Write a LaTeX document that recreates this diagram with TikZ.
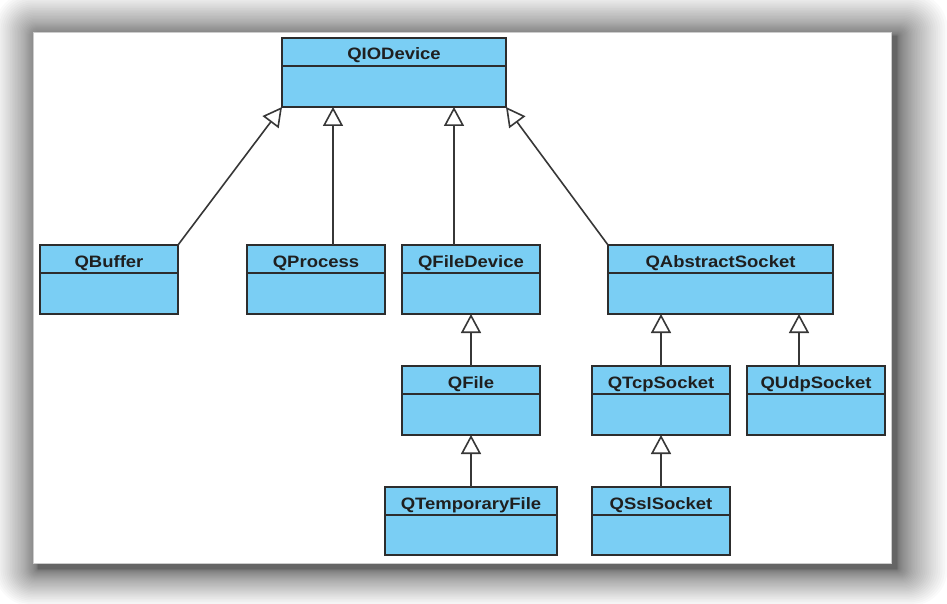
\documentclass[tikz,border=0pt]{standalone}
\usepackage{fontspec}
\newfontfamily\umlfont{Liberation Sans}[FakeStretch=1.12]
\usetikzlibrary{arrows.meta,calc}

\definecolor{classfill}{RGB}{122,206,244}
\definecolor{classline}{RGB}{45,45,45}

\tikzset{
  classbox/.style={draw=classline, fill=classfill, line width=1.6pt, rectangle,
    inner sep=0pt, outer sep=0pt, anchor=north west},
  classtitle/.style={font=\umlfont\bfseries\fontsize{16.5}{18}\selectfont,
    text=black!88, anchor=base, inner sep=0pt},
  divider/.style={draw=classline, line width=1.6pt},
  inherits/.style={draw=classline!95, line width=1.6pt,
    -{Triangle[open,length=19pt,width=20pt,fill=white]}},
  sheet/.style={fill=white, draw=black!20, line width=0.8pt},
  shadowlayer/.style={fill=black, fill opacity=0.02},
}

% class box: name, left, top, right, bottom, title
\newcommand\umlclass[6]{%
  \node[classbox, minimum width={#4-#2}, minimum height={#5-#3}] (#1) at (#2,#3) {};
  \node[classtitle] (#1-title) at ($(#1.north)+(0,22)$) {#6};
  \draw[divider] ($(#1.north west)+(0,28)$) -- ($(#1.north east)+(0,28)$);
}

\begin{document}
\begin{tikzpicture}[x=1pt,y=-1pt]
  \useasboundingbox (0,0) rectangle (947,604);
  \fill[white] (0,0) rectangle (947,604);

  % soft drop shadow under the sheet: stacked translucent layers whose
  % spread grows quadratically, so the shade falls off gently outwards
  \foreach \i in {1,...,40}{
    \pgfmathsetmacro\e{46*(\i/40)^2}
    \fill[shadowlayer, rounded corners={\e*0.8pt+0.1pt}]
      ({38-\e*0.95},{36-\e*0.95}) rectangle ({897+\e*1.1},{569+\e*0.8});
  }

  % paper sheet
  \path[sheet] (33,32) rectangle (891,563);

  % classes
  \umlclass{io}{282}{38}{506}{107}{QIODevice}
  \umlclass{buf}{40}{245}{178}{314}{QBuffer}
  \umlclass{proc}{247}{245}{385}{314}{QProcess}
  \umlclass{fdev}{402}{245}{540}{314}{QFileDevice}
  \umlclass{asock}{608}{245}{833}{314}{QAbstractSocket}
  \umlclass{file}{402}{366}{540}{435}{QFile}
  \umlclass{tcp}{592}{366}{730}{435}{QTcpSocket}
  \umlclass{udp}{747}{366}{885}{435}{QUdpSocket}
  \umlclass{tmp}{385}{487}{557}{555}{QTemporaryFile}
  \umlclass{ssl}{592}{487}{730}{555}{QSslSocket}

  % x positions of the vertical generalisation lines
  \coordinate (xproc) at (333,0);
  \coordinate (xfdev) at (454,0);
  \coordinate (xfile) at (471,0);
  \coordinate (xtcp)  at (661,0);
  \coordinate (xudp)  at (799,0);

  % generalisations
  \draw[inherits] (buf.north east) -- (io.south west);
  \draw[inherits] (proc.north -| xproc) -- (io.south -| xproc);
  \draw[inherits] (fdev.north -| xfdev) -- (io.south -| xfdev);
  \draw[inherits] (asock.north west) -- (io.south east);
  \draw[inherits] (file.north -| xfile) -- (fdev.south -| xfile);
  \draw[inherits] (tmp.north -| xfile) -- (file.south -| xfile);
  \draw[inherits] (tcp.north -| xtcp) -- (asock.south -| xtcp);
  \draw[inherits] (udp.north -| xudp) -- (asock.south -| xudp);
  \draw[inherits] (ssl.north -| xtcp) -- (tcp.south -| xtcp);
\end{tikzpicture}
\end{document}
